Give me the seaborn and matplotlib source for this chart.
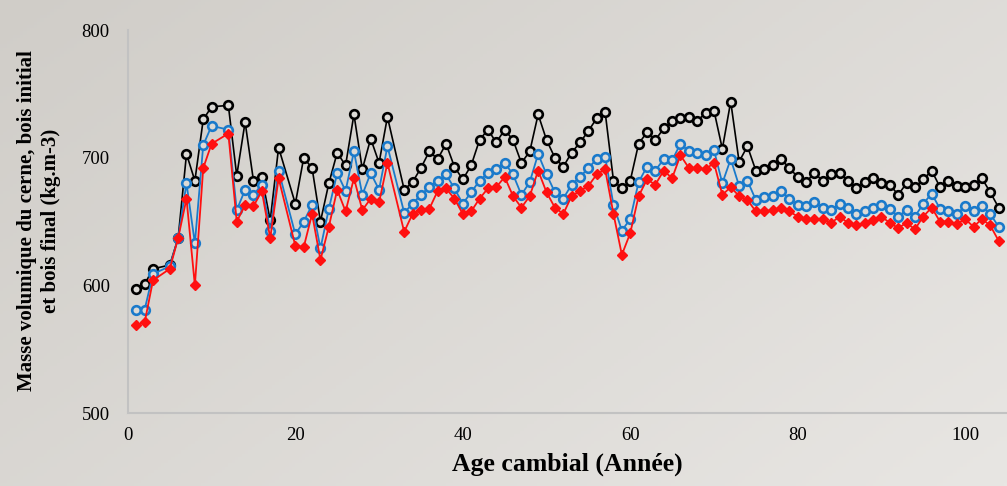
import numpy as np
import pandas as pd
import matplotlib
matplotlib.use("Agg")
import matplotlib.pyplot as plt
import seaborn as sns

# Cambial age (years) with measured densities
ages = [1, 2, 3, 5, 6, 7, 8, 9, 10, 12, 13, 14, 15, 16, 17, 18, 20, 21, 22, 23,
        24, 25, 26, 27, 28, 29, 30, 31, 33, 34, 35, 36, 37, 38, 39, 40, 41, 42,
        43, 44, 45, 46, 47, 48, 49, 50, 51, 52, 53, 54, 55, 56, 57, 58, 59, 60,
        61, 62, 63, 64, 65, 66, 67, 68, 69, 70, 71, 72, 73, 74, 75, 76, 77, 78,
        79, 80, 81, 82, 83, 84, 85, 86, 87, 88, 89, 90, 91, 92, 93, 94, 95, 96,
        97, 98, 99, 100, 101, 102, 103, 104]

# Latewood density (kg.m-3)
bois_final = [597, 601, 613, 616, 637, 703, 682, 730, 740, 741, 686, 728, 682, 685,
              651, 708, 664, 700, 692, 650, 680, 704, 694, 734, 691, 715, 696, 732,
              675, 681, 692, 705, 699, 711, 693, 683, 694, 714, 722, 712, 722, 714,
              696, 705, 734, 714, 700, 693, 704, 712, 721, 731, 736, 682, 676, 682,
              711, 720, 714, 723, 729, 731, 732, 729, 735, 737, 707, 744, 697, 709,
              690, 691, 694, 699, 692, 685, 681, 688, 682, 687, 688, 682, 676, 681,
              684, 680, 679, 671, 680, 677, 683, 690, 677, 682, 678, 677, 679, 684,
              673, 661]

# Whole-ring density (kg.m-3)
cerne = [581, 581, 609, 615, 637, 680, 633, 710, 725, 722, 659, 675, 671, 679,
         643, 690, 640, 650, 663, 629, 660, 688, 674, 705, 671, 688, 675, 709,
         657, 664, 671, 677, 682, 687, 676, 664, 673, 682, 688, 691, 696, 687,
         671, 681, 703, 687, 673, 668, 679, 685, 692, 699, 701, 663, 643, 652,
         681, 693, 690, 699, 698, 711, 705, 704, 702, 706, 680, 699, 678, 682,
         667, 669, 670, 674, 668, 663, 662, 665, 661, 659, 664, 661, 656, 658,
         661, 663, 660, 654, 659, 654, 664, 672, 660, 658, 656, 662, 658, 662,
         656, 646]

# Earlywood density (kg.m-3)
bois_initial = [569, 571, 604, 613, 637, 668, 600, 692, 711, 719, 650, 663, 662, 674,
                637, 684, 631, 630, 656, 620, 646, 675, 658, 684, 659, 668, 665, 696,
                642, 656, 659, 660, 674, 676, 668, 656, 658, 668, 676, 677, 685, 670,
                661, 670, 690, 673, 661, 656, 670, 674, 678, 687, 691, 656, 624, 641,
                670, 683, 679, 690, 684, 702, 692, 692, 691, 696, 671, 677, 670, 667,
                658, 658, 659, 661, 658, 654, 652, 652, 652, 649, 654, 649, 647, 649,
                651, 654, 649, 645, 649, 644, 654, 661, 650, 650, 648, 652, 646, 652,
                647, 635]

x_ticks = [0, 20, 40, 60, 80, 100]
y_ticks = [500, 600, 700, 800]

df = pd.DataFrame({"age": ages, "final": bois_final,
                   "cerne": cerne, "initial": bois_initial})

sns.set_theme(style="white")
plt.rcParams["font.family"] = ["Liberation Serif", "DejaVu Serif"]

fig = plt.figure(figsize=(10.07, 4.86), dpi=100)

# Soft grey diagonal gradient behind the plot
bg = fig.add_axes([0, 0, 1, 1], zorder=-10)
gx, gy = np.meshgrid(np.linspace(0, 1, 300), np.linspace(0, 1, 150))
grad = 0.6 * gx + 0.4 * gy
c0 = np.array([208, 205, 200]) / 255.0
c1 = np.array([232, 230, 227]) / 255.0
img = c0[None, None, :] * (1 - grad[..., None]) + c1[None, None, :] * grad[..., None]
bg.imshow(img, aspect="auto", extent=[0, 1, 0, 1], origin="upper")
bg.set_axis_off()

ax = fig.add_axes([0.127, 0.150, 0.873, 0.788])
ax.set_facecolor("none")

face = "#dcdad6"
sns.lineplot(data=df, x="age", y="final", ax=ax, color="black", lw=1.2,
             marker="o", markersize=6.2, markerfacecolor=face,
             markeredgecolor="black", markeredgewidth=1.9, zorder=3)
sns.lineplot(data=df, x="age", y="cerne", ax=ax, color="#1a7acb", lw=1.3,
             marker="o", markersize=6.2, markerfacecolor=face,
             markeredgecolor="#1a7acb", markeredgewidth=1.9, zorder=4)
sns.lineplot(data=df, x="age", y="initial", ax=ax, color="#ff1010", lw=1.3,
             marker="D", markersize=4.8, markerfacecolor="#ff1010",
             markeredgecolor="#ff1010", markeredgewidth=1.0, zorder=5)

ax.set_xlim(0, 105)
ax.set_ylim(500, 800)
ax.set_xticks(x_ticks)
ax.set_yticks(y_ticks)
ax.tick_params(axis="both", labelsize=13.5, colors="#bdbdbd", labelcolor="black",
               length=5, width=1.2, direction="out")
ax.tick_params(axis="x", pad=5)
ax.tick_params(axis="y", pad=8)

for side in ["top", "right"]:
    ax.spines[side].set_visible(False)
for side in ["left", "bottom"]:
    ax.spines[side].set_color("#c2c2c2")
    ax.spines[side].set_linewidth(1.5)

ax.set_xlabel("Age cambial (Année)", fontsize=18.5, fontweight="bold",
              labelpad=6, color="black")
ax.set_ylabel("")
fig.text(39 / 1007, 1 - 221 / 486,
         "Masse volumique du cerne, bois initial\net bois final (kg.m-3)",
         rotation=90, ha="center", va="center", multialignment="center",
         fontsize=15, fontweight="bold", color="black", linespacing=1.3)

fig.savefig("out.png", dpi=100)
